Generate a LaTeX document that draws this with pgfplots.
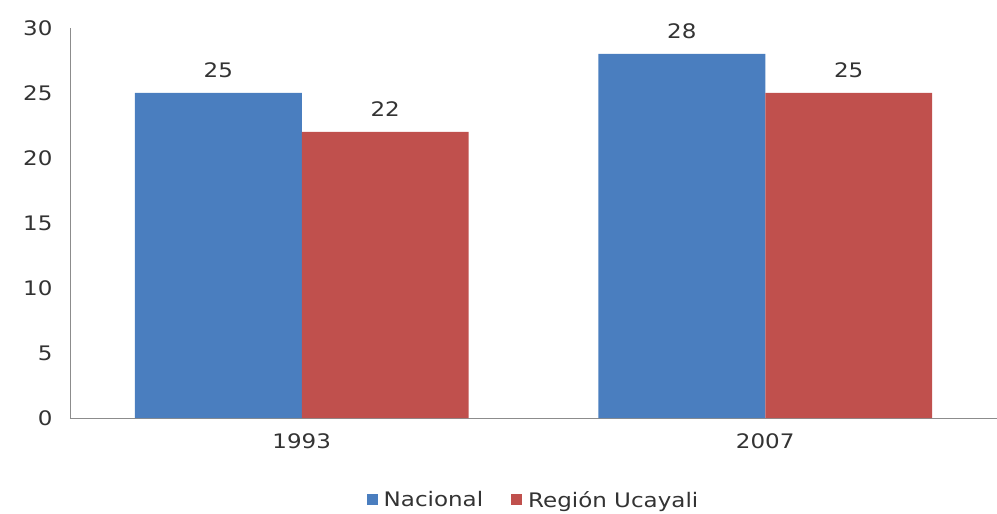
\documentclass[border=0pt]{standalone}
\usepackage{fontspec}
\setmainfont{DejaVu Sans}[FakeStretch=1.15]
\usepackage{pgfplots}
\pgfplotsset{compat=1.18}
\definecolor{cblue}{HTML}{4A7EBF}
\definecolor{cred}{HTML}{C0504D}
\definecolor{axgray}{HTML}{8C8C8C}
\begin{document}
\begin{tikzpicture}
\begin{axis}[
  scale only axis,
  width=927bp, height=390bp,
  ybar=0pt, bar width=0.36,
  xmin=-0.5, xmax=1.5,
  ymin=0, ymax=30,
  ytick={0,5,10,15,20,25,30},
  xtick={0,1}, xticklabels={1993,2007},
  axis x line=bottom, axis y line=left,
  axis line style={axgray, line width=0.8bp, -},
  major tick length=0pt,
  /pgf/number format/assume math mode=true,
  tick label style={font=\fontsize{20bp}{24bp}\selectfont, text=black!80},
  yticklabel style={xshift=-14bp},
  xticklabel style={yshift=-12bp},
  nodes near coords,
  nodes near coords style={font=\fontsize{20bp}{24bp}\selectfont, text=black!80, yshift=12bp},
  legend style={at={(0.5,-0.21)}, anchor=center, draw=none, legend columns=2,
    font=\fontsize{20bp}{24bp}\selectfont, text=black!80,
    /tikz/every odd column/.append style={column sep=4bp},
    /tikz/every even column/.append style={column sep=26bp}},
  legend image code/.code={\fill[#1] (0bp,-5bp) rectangle (11bp,6bp);},
]
\addplot[fill=cblue, draw=none] coordinates {(0,25) (1,28)};
\addplot[fill=cred, draw=none] coordinates {(0,22) (1,25)};
\legend{Nacional, Región Ucayali}
\end{axis}
\pgfresetboundingbox
\path[use as bounding box] ([xshift=-70bp,yshift=-96bp]current axis.south west) rectangle ([yshift=28bp]current axis.north east);
\end{tikzpicture}
\end{document}
